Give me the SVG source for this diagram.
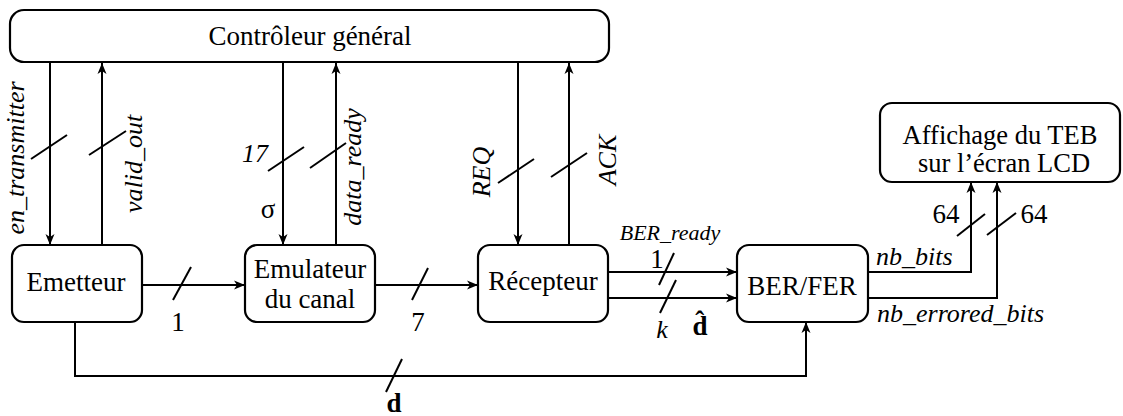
<svg xmlns="http://www.w3.org/2000/svg" width="1123" height="416" viewBox="0 0 1123 416">
<style>
.box{fill:#fff;stroke:#000;stroke-width:2.2}
.t{font-family:"Liberation Serif","Times New Roman",serif;font-size:27px;fill:#000}
.i{font-family:"Liberation Serif","Times New Roman",serif;font-size:26px;font-style:italic;fill:#000}
.c{text-anchor:middle}
.w{fill:none;stroke:#000;stroke-width:2}
.s{stroke:#000;stroke-width:2}
</style>
<defs>
<marker id="ah" viewBox="-12 -6 13 12" markerWidth="13" markerHeight="12" refX="0" refY="0" orient="auto" markerUnits="userSpaceOnUse">
<path d="M-11,-4.5 L0,0 L-11,4.5 L-8,0 z" fill="#000"/>
</marker>
</defs>
<g id="controleur">
<rect class="box" x="10" y="10" width="599" height="52" rx="14"/>
<text class="t c" x="310" y="45">Contrôleur général</text>
</g>
<g id="emetteur">
<rect class="box" x="12" y="245" width="130" height="77" rx="12"/>
<text class="t c" x="76" y="291">Emetteur</text>
</g>
<g id="emulateur">
<rect class="box" x="245" y="245" width="130" height="77" rx="12"/>
<text class="t c" x="310" y="278">Emulateur</text>
<text class="t c" x="310" y="308">du canal</text>
</g>
<g id="recepteur">
<rect class="box" x="478" y="245" width="130" height="77" rx="12"/>
<text class="t c" x="543" y="290">Récepteur</text>
</g>
<g id="berfer">
<rect class="box" x="737" y="245" width="131" height="77" rx="12"/>
<text class="t c" x="802" y="295">BER/FER</text>
</g>
<g id="affichage">
<rect class="box" x="880" y="103" width="240" height="79" rx="12"/>
<text class="t c" x="1000" y="144" style="font-size:26.5px">Affichage du TEB</text>
<text class="t c" x="1004" y="172" style="font-size:26.5px">sur l’écran LCD</text>
</g>
<g id="connectors">
<line class="w" x1="50" y1="63" x2="50" y2="245" marker-end="url(#ah)"/>
<line class="w" x1="102" y1="245" x2="102" y2="63" marker-end="url(#ah)"/>
<line class="w" x1="283" y1="63" x2="283" y2="245" marker-end="url(#ah)"/>
<line class="w" x1="336" y1="245" x2="336" y2="63" marker-end="url(#ah)"/>
<line class="w" x1="518" y1="63" x2="518" y2="245" marker-end="url(#ah)"/>
<line class="w" x1="569" y1="245" x2="569" y2="63" marker-end="url(#ah)"/>
<line class="w" x1="142" y1="285" x2="245" y2="285" marker-end="url(#ah)"/>
<line class="w" x1="375" y1="285" x2="478" y2="285" marker-end="url(#ah)"/>
<line class="w" x1="608" y1="272" x2="737" y2="272" marker-end="url(#ah)"/>
<line class="w" x1="608" y1="298" x2="737" y2="298" marker-end="url(#ah)"/>
<polyline class="w" points="868,272 971,272 971,182" marker-end="url(#ah)"/>
<polyline class="w" points="868,298 997,298 997,182" marker-end="url(#ah)"/>
<polyline class="w" points="75,322 75,376 806,376 806,322" marker-end="url(#ah)"/>
<g id="slashes">
<line class="s" x1="31" y1="159" x2="67" y2="135"/>
<line class="s" x1="89" y1="155" x2="126" y2="131"/>
<line class="s" x1="268" y1="171" x2="304" y2="147"/>
<line class="s" x1="310" y1="168" x2="346" y2="143"/>
<line class="s" x1="498" y1="183" x2="534" y2="159"/>
<line class="s" x1="551" y1="177" x2="587" y2="153"/>
<line class="s" x1="173" y1="300" x2="191" y2="267"/>
<line class="s" x1="412" y1="300" x2="428" y2="268"/>
<line class="s" x1="659" y1="285" x2="674" y2="253"/>
<line class="s" x1="660" y1="313" x2="676" y2="280"/>
<line class="s" x1="957" y1="236" x2="985" y2="214"/>
<line class="s" x1="987" y1="235" x2="1016" y2="213"/>
<line class="s" x1="386" y1="392" x2="402" y2="359"/>
</g>
<g id="labels">
<text class="i c" transform="translate(24,158) rotate(-90)">en_transmitter</text>
<text class="i c" transform="translate(142,164) rotate(-90)">valid_out</text>
<text class="i c" transform="translate(361,167) rotate(-90)">data_ready</text>
<text class="i c" transform="translate(490,172) rotate(-90)">REQ</text>
<text class="i c" transform="translate(616,160) rotate(-90)">ACK</text>
<text class="i c" x="255" y="162">17</text>
<text class="t c" x="268" y="218">σ</text>
<text class="i c" x="670" y="240" style="font-size:22px">BER_ready</text>
<text class="t c" x="657" y="268">1</text>
<text class="i c" x="662" y="338">k</text>
<text class="t c" x="700" y="335" font-weight="bold">d̂</text>
<text class="t c" x="946" y="223">64</text>
<text class="t c" x="1034" y="223">64</text>
<text class="i" x="876" y="265">nb_bits</text>
<text class="i" x="877" y="322">nb_errored_bits</text>
<text class="t c" x="178" y="331">1</text>
<text class="t c" x="418" y="331">7</text>
<text class="t c" x="394" y="412" font-weight="bold">d</text>
</g>
</g>
</svg>
